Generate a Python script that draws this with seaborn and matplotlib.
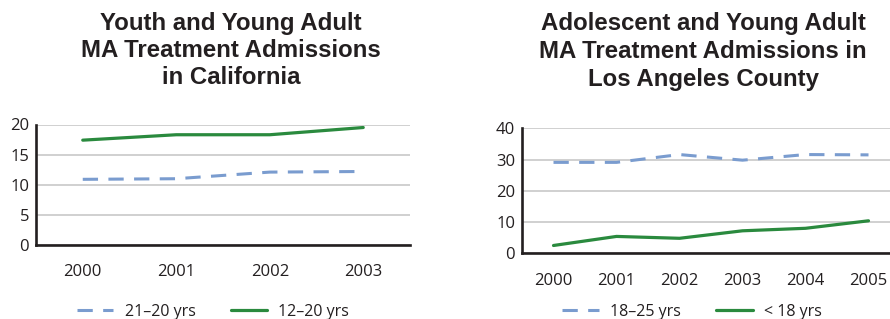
import pandas as pd
import seaborn as sns
import matplotlib.pyplot as plt

# California data
ca_years = [2000, 2001, 2002, 2003]
ca_21_20 = [10.9, 11.0, 12.1, 12.2]
ca_12_20 = [17.4, 18.3, 18.3, 19.5]

# Los Angeles County data
la_years = [2000, 2001, 2002, 2003, 2004, 2005]
la_18_25 = [29.1, 29.1, 31.6, 29.8, 31.6, 31.5]
la_u18 = [2.5, 5.4, 4.8, 7.2, 8.0, 10.4]

ca = pd.DataFrame({'year': ca_years, '21–20 yrs': ca_21_20, '12–20 yrs': ca_12_20})
la = pd.DataFrame({'year': la_years, '18–25 yrs': la_18_25, '< 18 yrs': la_u18})

sns.set_style('white')
plt.rcParams['font.family'] = ['Open Sans', 'DejaVu Sans']

BLUE = '#7a9ccf'
GREEN = '#2a8a3e'
INK = '#231f20'
GRID = '#c8c8c8'

fig = plt.figure(figsize=(8.9, 3.19), dpi=100)
ax1 = fig.add_axes([36 / 890, 1 - 245 / 319, (410 - 36) / 890, (245 - 124.5) / 319])
ax2 = fig.add_axes([522 / 890, 1 - 253.3 / 319, 378 / 890, (253.3 - 128.3) / 319])


def style_axis(ax, df, dashed, solid, ymax, ystep):
    sns.lineplot(data=df, x='year', y=dashed, ax=ax, color=BLUE, lw=2.2,
                 linestyle=(0, (5, 3.4)), label=dashed)
    sns.lineplot(data=df, x='year', y=solid, ax=ax, color=GREEN, lw=2.3,
                 label=solid)
    years = df['year'].tolist()
    ax.set_xlim(years[0] - 0.5, years[-1] + 0.5)
    ax.set_ylim(0, ymax)
    ax.set_yticks(range(0, ymax + 1, ystep))
    ax.set_xticks(years)
    ax.set_xticks([y + 0.5 for y in years[:-1]], minor=True)
    ax.set_xlabel('')
    ax.set_ylabel('')
    ax.yaxis.grid(True, color=GRID, lw=1.2)
    ax.set_axisbelow(True)
    for s in ['top', 'right']:
        ax.spines[s].set_visible(False)
    for s in ['left', 'bottom']:
        ax.spines[s].set_color(INK)
        ax.spines[s].set_linewidth(1.9)
    ax.tick_params(axis='x', which='major', length=0, pad=14, labelsize=12, labelcolor=INK)
    ax.tick_params(axis='x', which='minor', length=5, width=1.8, color=INK, direction='out')
    ax.tick_params(axis='y', length=0, pad=5, labelsize=12, labelcolor=INK)
    ax.get_legend().remove()


style_axis(ax1, ca, '21–20 yrs', '12–20 yrs', 20, 5)
style_axis(ax2, la, '18–25 yrs', '< 18 yrs', 40, 10)

for ax, cx in [(ax1, 213 / 890), (ax2, 692 / 890)]:
    h, l = ax.get_legend_handles_labels()
    fig.legend(h, l, loc='center', bbox_to_anchor=(cx, 1 - 312 / 319), ncol=2,
               frameon=False, fontsize=11.5, handlelength=2.3, handletextpad=0.7,
               columnspacing=2.2, labelcolor=INK)

fig.text(231 / 890, 1 - 12 / 319, 'Youth and Young Adult\nMA Treatment Admissions\nin California',
         ha='center', va='top', fontsize=17.3, fontweight='bold', color=INK,
         family='Liberation Sans', linespacing=1.22)
fig.text(703 / 890, 1 - 12 / 319, 'Adolescent and Young Adult\nMA Treatment Admissions in\nLos Angeles County',
         ha='center', va='top', fontsize=17.3, fontweight='bold', color=INK,
         family='Liberation Sans', linespacing=1.27)

fig.savefig('out.png', dpi=100)
